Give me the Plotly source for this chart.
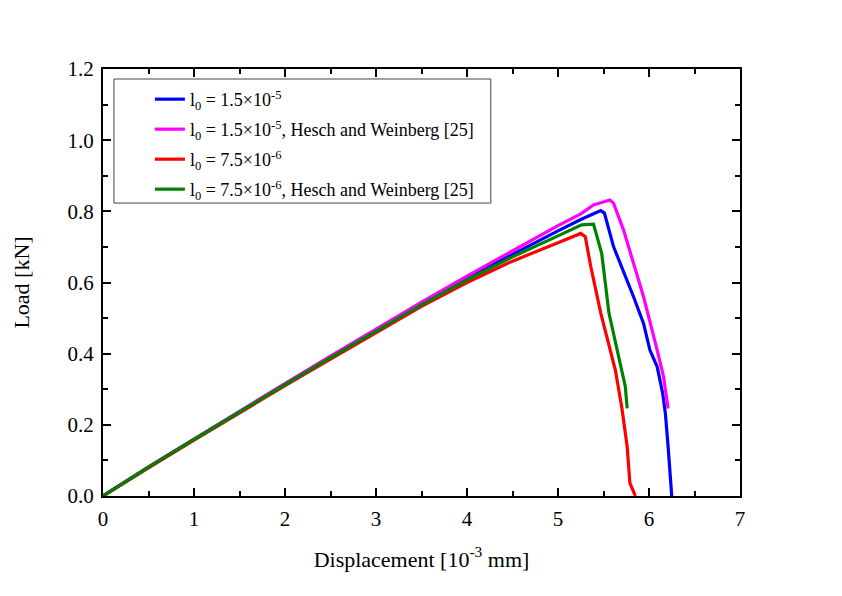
import plotly.graph_objects as go

# l0 = 1.5e-5 (blue)
disp_a = [0, 0.25, 0.5, 1.0, 1.5, 2.0, 2.5, 3.0, 3.5, 4.0, 4.5, 5.0, 5.25, 5.47, 5.51, 5.61, 5.83, 5.94, 6.01, 6.09, 6.15, 6.18, 6.21, 6.25]
load_a = [0, 0.041, 0.081, 0.159, 0.238, 0.315, 0.391, 0.467, 0.541, 0.613, 0.68, 0.745, 0.777, 0.802, 0.795, 0.701, 0.56, 0.485, 0.41, 0.363, 0.289, 0.232, 0.139, 0.0]

# l0 = 1.5e-5, Hesch and Weinberg (magenta)
disp_b = [0, 0.25, 0.5, 1.0, 1.5, 2.0, 2.5, 3.0, 3.5, 4.0, 4.5, 5.0, 5.25, 5.39, 5.57, 5.61, 5.72, 5.94, 6.09, 6.16, 6.21]
load_b = [0, 0.041, 0.082, 0.16, 0.239, 0.316, 0.393, 0.47, 0.545, 0.618, 0.69, 0.76, 0.793, 0.818, 0.832, 0.823, 0.748, 0.56, 0.41, 0.335, 0.246]

# l0 = 7.5e-6 (red)
disp_c = [0, 0.25, 0.5, 1.0, 1.5, 2.0, 2.5, 3.0, 3.5, 4.0, 4.5, 5.0, 5.25, 5.30, 5.36, 5.47, 5.63, 5.70, 5.76, 5.79, 5.85]
load_c = [0, 0.04, 0.079, 0.157, 0.234, 0.31, 0.385, 0.46, 0.533, 0.60, 0.66, 0.712, 0.738, 0.729, 0.645, 0.514, 0.354, 0.251, 0.139, 0.036, 0.0]

# l0 = 7.5e-6, Hesch and Weinberg (green)
disp_d = [0, 0.25, 0.5, 1.0, 1.5, 2.0, 2.5, 3.0, 3.5, 4.0, 4.5, 5.0, 5.26, 5.39, 5.48, 5.56, 5.68, 5.74, 5.76]
load_d = [0, 0.041, 0.081, 0.159, 0.237, 0.313, 0.389, 0.464, 0.537, 0.607, 0.672, 0.731, 0.762, 0.764, 0.682, 0.514, 0.382, 0.307, 0.246]

names = ['l<sub>0</sub> = 1.5×10<sup>-5</sup>',
         'l<sub>0</sub> = 1.5×10<sup>-5</sup>, Hesch and Weinberg [25]',
         'l<sub>0</sub> = 7.5×10<sup>-6</sup>',
         'l<sub>0</sub> = 7.5×10<sup>-6</sup>, Hesch and Weinberg [25]']
colors = ['#0000ff', '#ff00ff', '#ff0000', '#008000']

fig = go.Figure()
for i, (xs, ys, nm, col) in enumerate(zip([disp_a, disp_b, disp_c, disp_d],
                                          [load_a, load_b, load_c, load_d], names, colors)):
    fig.add_trace(go.Scatter(x=xs, y=ys, mode='lines', name=nm, legendgroup='g%d' % i,
                             line=dict(color=col, width=3.2)))

serif = 'Liberation Serif, Times New Roman, serif'
axis_common = dict(showline=True, linecolor='black', linewidth=2, mirror='ticks',
                   ticks='inside', ticklen=8, tickwidth=1.5, tickcolor='black',
                   showgrid=False, zeroline=False, ticklabelstandoff=3,
                   tickfont=dict(family=serif, size=21, color='black'))

fig.update_xaxes(range=[0, 7], dtick=1, title=dict(text='Displacement [10<sup>-3</sup> mm]',
                 font=dict(family=serif, size=22, color='black'), standoff=21),
                 minor=dict(ticks='inside', ticklen=5, dtick=0.5, tickcolor='black', tickwidth=1.5),
                 **axis_common)
fig.update_yaxes(range=[0, 1.2], dtick=0.2, tickformat='.1f',
                 title=dict(text='Load [kN]', font=dict(family=serif, size=22, color='black'), standoff=32),
                 minor=dict(ticks='inside', ticklen=5, dtick=0.1, tickcolor='black', tickwidth=1.5),
                 **axis_common)

# legend frame
fig.add_shape(type='rect', xref='paper', yref='paper', x0=0.0172, x1=0.6088, y0=0.686, y1=0.9766,
              line=dict(color='#444444', width=1), fillcolor='white', layer='below')

fig.update_layout(
    width=842, height=596,
    margin=dict(l=93, r=110, t=61, b=108),
    plot_bgcolor='white', paper_bgcolor='white',
    font=dict(family=serif, color='black'),
    legend=dict(x=0.0736, y=0.972, xanchor='left', yanchor='top',
                bgcolor='rgba(0,0,0,0)', borderwidth=0,
                font=dict(family=serif, size=18, color='black'),
                tracegroupgap=3.6),
)

fig.write_html('out.html')
